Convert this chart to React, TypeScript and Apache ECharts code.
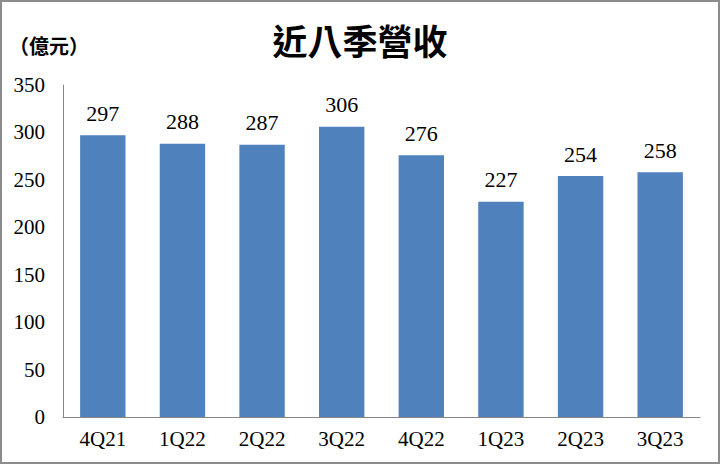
import React, { useEffect, useRef } from 'react';
import * as echarts from 'echarts';

const quarters = ['4Q21', '1Q22', '2Q22', '3Q22', '4Q22', '1Q23', '2Q23', '3Q23'];
const revenue = [297, 288, 287, 306, 276, 227, 254, 258];
const yTicks = [0, 50, 100, 150, 200, 250, 300, 350];

const serif = '"Liberation Serif", "Times New Roman", serif';

export default function App() {
  const chartRef = useRef<HTMLDivElement>(null);

  useEffect(() => {
    document.body.style.margin = '0';
    if (!chartRef.current) return;
    const chart = echarts.init(chartRef.current, null, { renderer: 'svg' });

    const option: echarts.EChartsOption = {
      animation: false,
      backgroundColor: '#ffffff',
      title: {
        text: '近八季營收',
        left: 'center',
        top: 15,
        textStyle: {
          fontFamily: '"Noto Sans CJK TC", sans-serif',
          fontWeight: 'bold',
          fontSize: 35,
          color: '#000'
        }
      },
      graphic: [
        {
          type: 'text',
          left: 7,
          top: 33,
          style: {
            text: '（億元）',
            font: 'bold 20px "Noto Sans CJK TC", sans-serif',
            fill: '#000'
          }
        }
      ],
      grid: {
        left: 61,
        right: 18,
        top: 83,
        bottom: 45,
        containLabel: false
      },
      xAxis: {
        type: 'category',
        data: quarters,
        axisLine: { lineStyle: { color: '#868686', width: 1 } },
        axisTick: { show: false },
        axisLabel: {
          fontFamily: serif,
          fontSize: 21,
          color: '#000',
          margin: 11
        }
      },
      yAxis: {
        type: 'value',
        min: yTicks[0],
        max: yTicks[yTicks.length - 1],
        interval: 50,
        axisLine: { show: true, lineStyle: { color: '#868686', width: 1 } },
        axisTick: { show: false },
        splitLine: { show: false },
        axisLabel: {
          fontFamily: serif,
          fontSize: 21,
          color: '#000',
          margin: 18
        }
      },
      series: [
        {
          type: 'bar',
          data: revenue,
          barCategoryGap: '43%',
          itemStyle: { color: '#4f81bd' },
          label: {
            show: true,
            position: 'top',
            distance: 11,
            fontFamily: serif,
            fontSize: 22,
            color: '#000'
          }
        }
      ]
    };

    chart.setOption(option);
    return () => chart.dispose();
  }, []);

  return (
    <div
      style={{
        width: 720,
        height: 464,
        boxSizing: 'border-box',
        border: '2px solid #8c8c8c',
        background: '#fff'
      }}
    >
      <div ref={chartRef} style={{ width: 716, height: 460 }} />
    </div>
  );
}
